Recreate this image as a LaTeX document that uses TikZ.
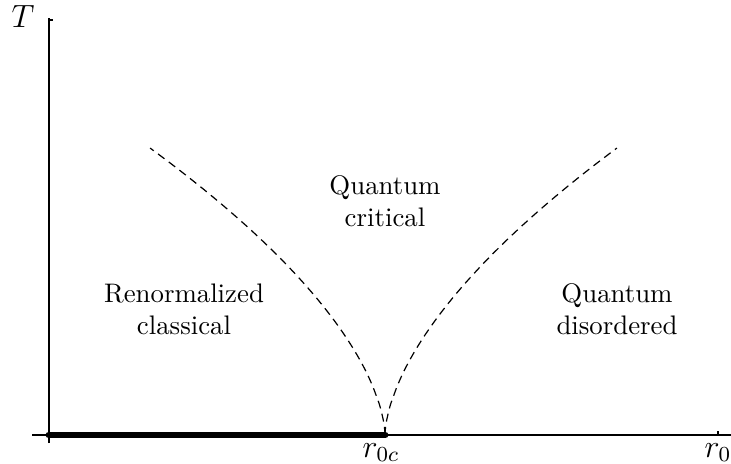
\documentclass[tikz,border=0pt]{standalone}
\usepackage{tikz}
\usetikzlibrary{positioning, calc}
\usepackage{amsmath,amssymb}

\tikzset{
    axisline/.style={line width=0.5pt},
    orderedline/.style={line width=2.6pt, line cap=round},
    crossover/.style={line width=0.45pt, dash pattern=on 3pt off 2pt},
    regime/.style={align=center, inner sep=0pt},
    axislabel/.style={anchor=base west, inner sep=0pt, font=\large}
}

\begin{document}
\begin{tikzpicture}[x=0.0131cm, y=-0.0131cm]
\useasboundingbox (0,0) rectangle (731,464);
\coordinate (origin) at (49,435);
\coordinate (qcp) at (385,435);
\coordinate (ytop) at (49,18);
\coordinate (xend) at (731,435);

% axes
\draw[axisline] (49,443) -- (ytop);
\draw[axisline] (32,435) -- (xend);
\draw[axisline] (49,20) -- (53,20);
\draw[axisline] (718,435) -- (718,431);

% ordered phase at T=0
\draw[orderedline] (origin) -- (qcp);

% crossover lines
\draw[crossover] plot[domain=0.0005:1, samples=80, smooth]
    ({385-235*(\x)^(1.667)}, {435-287*\x});
\draw[crossover] plot[domain=0.0005:1, samples=80, smooth]
    ({385+232*(\x)^(1.667)}, {435-287*\x});

\node[axislabel] (tlabel) at (11,28) {$T$};
\node[axislabel] (rclabel) at (362,457) {$r_{0c}$};
\node[axislabel] (r0label) at (704,457) {$r_0$};

\node[regime] (critical) at (385,201) {Quantum\\critical};
\node[regime] (classical) at (184,309) {Renormalized\\classical};
\node[regime] (disordered) at (617,309) {Quantum\\disordered};
\end{tikzpicture}
\end{document}
